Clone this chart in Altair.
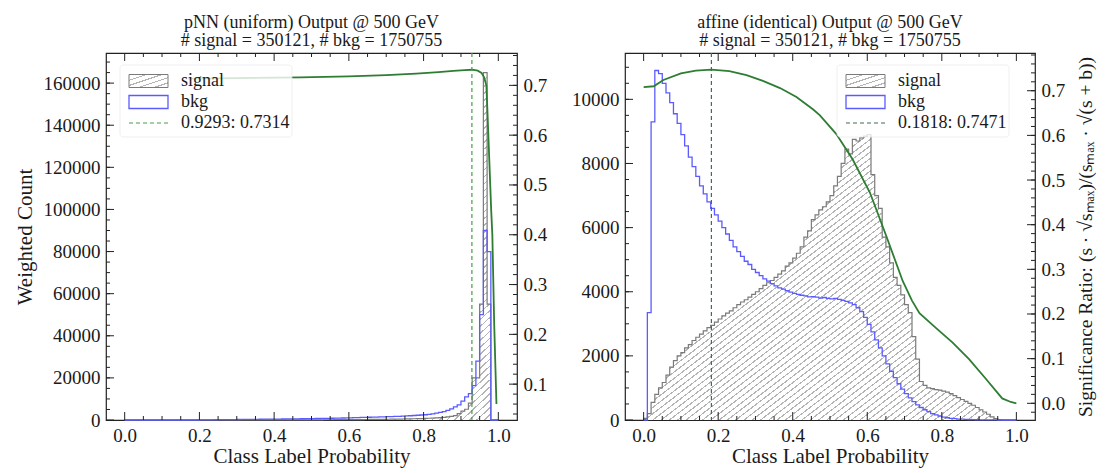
import altair as alt
import pandas as pd

FONT = "Liberation Serif"
TXT = "#1a1a1a"
EDGES = [round(0.01 * i, 2) for i in range(100)]

# ---------------- left panel: pNN (uniform) ----------------
L_SIG = [0, 0, 0, 0, 0, 0, 0, 0, 0, 0,
         0, 0, 0, 0, 0, 0, 0, 0, 0, 0,
         5, 5, 5, 10, 10, 10, 10, 15, 15, 15,
         20, 20, 20, 25, 25, 30, 30, 35, 35, 40,
         40, 45, 50, 55, 60, 65, 70, 75, 80, 85,
         90, 95, 100, 110, 120, 130, 140, 150, 160, 170,
         180, 195, 210, 225, 240, 260, 280, 300, 320, 340,
         360, 390, 420, 450, 480, 520, 560, 600, 650, 700,
         760, 830, 900, 1000, 1100, 1250, 1450, 1700, 2100, 3000,
         4200, 5100, 8000, 20000, 20000, 55000, 165000, 55000, 0, 0]
L_BKG = [0, 0, 0, 0, 0, 0, 0, 0, 0, 0,
         0, 0, 0, 0, 0, 0, 0, 0, 0, 0,
         50, 60, 80, 100, 120, 140, 160, 180, 200, 220,
         240, 260, 280, 300, 320, 340, 360, 380, 400, 420,
         440, 460, 480, 500, 520, 540, 560, 590, 620, 650,
         680, 710, 740, 770, 800, 840, 880, 920, 960, 1000,
         1050, 1100, 1150, 1200, 1250, 1300, 1350, 1400, 1450, 1500,
         1560, 1620, 1690, 1760, 1840, 1930, 2030, 2140, 2260, 2380,
         2500, 2700, 2950, 3250, 3600, 4000, 4600, 5300, 6200, 7200,
         9000, 11000, 12500, 16300, 28000, 50000, 90000, 80000, 0, 0]
L_CURVE_X = [0.17, 0.3, 0.47, 0.6, 0.7, 0.78, 0.84, 0.88, 0.91, 0.9293,
             0.945, 0.955, 0.962, 0.968, 0.971, 0.976, 0.981, 0.984, 0.989, 0.995]
L_CURVE_Y = [0.7135, 0.7145, 0.716, 0.718, 0.7205, 0.7235, 0.7265, 0.729, 0.7305, 0.7314,
             0.7295, 0.725, 0.716, 0.70, 0.646, 0.547, 0.448, 0.40, 0.22, 0.06]
L_CUT, L_BEST = 0.9293, 0.7314

# ---------------- right panel: affine (identical) ----------------
R_SIG = [50, 200, 550, 800, 1000, 1170, 1400, 1650, 1850, 2000,
         2100, 2250, 2350, 2480, 2580, 2680, 2780, 2880, 2950, 3050,
         3150, 3250, 3330, 3400, 3500, 3600, 3680, 3750, 3830, 3920,
         4000, 4100, 4200, 4280, 4350, 4450, 4550, 4650, 4800, 4900,
         5050, 5200, 5400, 5700, 5900, 6250, 6400, 6550, 6650, 6800,
         7000, 7300, 7600, 8000, 8450, 8300, 8750, 8700, 8800, 8850,
         8900, 7650, 7000, 6600, 5700, 5400, 4900, 4450, 4200, 3900,
         3600, 3350, 2600, 1900, 1200, 1080, 1000, 980, 950, 930,
         900, 870, 820, 760, 700, 640, 580, 520, 460, 390,
         320, 250, 180, 100, 40, 10, 0, 0, 0, 0]
R_BKG = [0, 3350, 9300, 10900, 10800, 10500, 10200, 9900, 9550, 9250,
         8900, 8550, 8200, 7900, 7600, 7300, 7050, 6800, 6600, 6400,
         6200, 6000, 5800, 5600, 5400, 5250, 5100, 4950, 4850, 4700,
         4600, 4500, 4400, 4330, 4250, 4180, 4120, 4080, 4030, 3990,
         3950, 3920, 3890, 3870, 3840, 3850, 3830, 3800, 3820, 3790,
         3780, 3790, 3760, 3730, 3700, 3650, 3600, 3500, 3380, 3200,
         2980, 2750, 2500, 2250, 2000, 1750, 1520, 1320, 1130, 960,
         820, 690, 570, 470, 390, 320, 260, 200, 160, 120,
         90, 70, 50, 40, 30, 25, 20, 15, 10, 8,
         5, 4, 3, 2, 1, 0, 0, 0, 0, 0]
R_CURVE_X = [0.0, 0.027, 0.053, 0.1, 0.14, 0.1818, 0.23, 0.276, 0.32, 0.366,
             0.41, 0.455, 0.473, 0.517, 0.561, 0.607, 0.65, 0.695, 0.72, 0.74,
             0.784, 0.829, 0.873, 0.918, 0.962, 0.985, 1.0]
R_CURVE_Y = [0.708, 0.71, 0.724, 0.739, 0.745, 0.7471, 0.744, 0.735, 0.722, 0.706,
             0.686, 0.658, 0.645, 0.603, 0.546, 0.472, 0.377, 0.274, 0.23, 0.202,
             0.169, 0.136, 0.099, 0.055, 0.011, 0.003, 0.0]
R_CUT, R_BEST = 0.1818, 0.7471

X_MAJOR = [0.0, 0.2, 0.4, 0.6, 0.8, 1.0]
X_MINOR = [0.05, 0.1, 0.15, 0.25, 0.3, 0.35, 0.45, 0.5, 0.55, 0.65, 0.7, 0.75, 0.85, 0.9, 0.95]

XS = alt.Scale(domain=[-0.05, 1.05], nice=False, zero=False)
ONE = pd.DataFrame({"k": [0]})


def hatch(n, color="#b4b4b4", frac=0.22):
    stops = []
    for k in range(n):
        a = k / n
        b = (k + frac) / n
        c = (k + 1) / n
        stops += [alt.GradientStop(offset=a, color=color),
                  alt.GradientStop(offset=b, color=color),
                  alt.GradientStop(offset=b, color="#ffffff"),
                  alt.GradientStop(offset=c, color="#ffffff")]
    return alt.LinearGradient(gradient="linear", stops=stops, x1=0, y1=0, x2=1, y2=1)


def step_df(vals):
    xs = [0.0] + EDGES + [1.0, 1.0]
    ys = [0] + list(vals) + [vals[-1], 0]
    return pd.DataFrame({"x": xs, "y": ys, "i": list(range(len(xs)))})


def xticks(vals, length, H):
    df = pd.DataFrame({"t": vals})
    base = alt.Chart(df).mark_rule(color="#222", strokeWidth=1)
    bot = base.encode(x=alt.X("t:Q", scale=XS, axis=None), y=alt.value(H), y2=alt.value(H - length))
    top = base.encode(x=alt.X("t:Q", scale=XS, axis=None), y=alt.value(0), y2=alt.value(length))
    return [bot, top]


def yticks(vals, length, scale, right, W):
    df = pd.DataFrame({"t": vals})
    x0 = W if right else 0
    x1 = W - length if right else length
    return alt.Chart(df).mark_rule(color="#222", strokeWidth=1).encode(
        y=alt.Y("t:Q", scale=scale, axis=None), x=alt.value(x0), x2=alt.value(x1))


def panel(W, H, sig, bkg, cx, cy, cut, best, ymax, ymaj, ymin, sdom, smaj, smin,
          title, ytitle, stitle, lx, nhatch, vcolor):
    CS = alt.Scale(domain=[0, ymax], nice=False, zero=True)
    SS = alt.Scale(domain=sdom, nice=False, zero=False)

    area_df = pd.DataFrame({"x": EDGES + [1.0], "y": list(sig) + [sig[-1]]})
    ykw = dict(orient="left", values=ymaj, format="d", ticks=False, domain=False,
               labelPadding=6, titlePadding=8, grid=False)
    ykw["title"] = ytitle if ytitle else ""
    xaxis = alt.Axis(orient="bottom", values=X_MAJOR, format=".1f", title="Class Label Probability",
                     ticks=False, domain=False, labelPadding=6, titlePadding=0, grid=False)
    area = alt.Chart(area_df).mark_area(interpolate="step-after", fill=hatch(nhatch), strokeWidth=0).encode(
        x=alt.X("x:Q", scale=XS, axis=xaxis),
        y=alt.Y("y:Q", scale=CS, axis=alt.Axis(**ykw)))
    sline = alt.Chart(step_df(sig)).mark_line(interpolate="step-after", color="#7a7a7a", strokeWidth=1.2).encode(
        x=alt.X("x:Q", scale=XS, axis=None), y=alt.Y("y:Q", scale=CS, axis=None), order="i:Q")
    bline = alt.Chart(step_df(bkg)).mark_line(interpolate="step-after", color="#5b5bff", strokeWidth=1.3).encode(
        x=alt.X("x:Q", scale=XS, axis=None), y=alt.Y("y:Q", scale=CS, axis=None), order="i:Q")

    skw = dict(orient="right", values=smaj, format=".1f", ticks=False, domain=False,
               labelPadding=6, titlePadding=12, grid=False, titleAngle=270, titleBaseline="top",
               titleFontSize=19.5)
    skw["title"] = stitle if stitle else ""
    curve = alt.Chart(pd.DataFrame({"x": cx, "y": cy})).mark_line(color="#2e7d32", strokeWidth=1.8).encode(
        x=alt.X("x:Q", scale=XS, axis=None), y=alt.Y("y:Q", scale=SS, axis=alt.Axis(**skw)))
    vline = alt.Chart(pd.DataFrame({"x": [cut]})).mark_rule(color=vcolor, strokeDash=[4, 3], strokeWidth=1.2).encode(
        x=alt.X("x:Q", scale=XS, axis=None))

    rows = [28, 49, 70]
    hx0, hx1, tx = lx + 9, lx + 48, lx + 61
    bg = alt.Chart(ONE).mark_rect(fill="white", opacity=0.8, stroke="#e8e8e8", strokeWidth=0.8, cornerRadius=3).encode(
        x=alt.value(lx), x2=alt.value(lx + 172), y=alt.value(12), y2=alt.value(84))
    h1 = alt.Chart(ONE).mark_rect(fill=hatch(5), stroke="#7a7a7a", strokeWidth=1).encode(
        x=alt.value(hx0), x2=alt.value(hx1), y=alt.value(rows[0] - 6.5), y2=alt.value(rows[0] + 6.5))
    h2 = alt.Chart(ONE).mark_rect(filled=False, stroke="#5b5bff", strokeWidth=1.3).encode(
        x=alt.value(hx0), x2=alt.value(hx1), y=alt.value(rows[1] - 6.5), y2=alt.value(rows[1] + 6.5))
    h3 = alt.Chart(ONE).mark_rule(color=vcolor, strokeDash=[4, 3], strokeWidth=1.2).encode(
        x=alt.value(hx0), x2=alt.value(hx1), y=alt.value(rows[2]))
    texts = []
    for r, lab in zip(rows, ["signal", "bkg", f"{cut:.4f}: {best:.4f}"]):
        texts.append(alt.Chart(ONE).mark_text(align="left", baseline="middle", fontSize=18, font=FONT, color=TXT).encode(
            x=alt.value(tx), y=alt.value(r), text=alt.value(lab)))

    layers = [area, sline, bline, curve, vline,
              *xticks(X_MAJOR, 8, H), *xticks(X_MINOR, 4, H),
              yticks(ymaj, 8, CS, False, W), yticks(ymin, 4, CS, False, W),
              yticks(smaj, 8, SS, True, W), yticks(smin, 4, SS, True, W),
              bg, h1, h2, h3, *texts]
    return alt.layer(*layers).resolve_scale(y="independent").resolve_axis(x="independent").properties(
        width=W, height=H,
        title=alt.TitleParams(text=title, fontSize=18, font=FONT, fontWeight="normal", anchor="middle",
                              frame="group", offset=2, lineHeight=18.5, color=TXT))


H = 367

left = panel(411, H, L_SIG, L_BKG, L_CURVE_X, L_CURVE_Y, L_CUT, L_BEST,
             174300, list(range(0, 170001, 20000)), list(range(5000, 170001, 5000)),
             [0.028, 0.765], [0.1, 0.2, 0.3, 0.4, 0.5, 0.6, 0.7],
             [round(0.04 + 0.02 * i, 2) for i in range(37)],
             ["pNN (uniform) Output @ 500 GeV", "# signal = 350121, # bkg = 1750755"],
             "Weighted Count", None, 14, 100, "#44a044")

right = panel(410, H, R_SIG, R_BKG, R_CURVE_X, R_CURVE_Y, R_CUT, R_BEST,
              11445, list(range(0, 11001, 2000)), list(range(500, 11401, 500)),
              [-0.0374, 0.7845], [0.0, 0.1, 0.2, 0.3, 0.4, 0.5, 0.6, 0.7],
              [round(-0.02 + 0.02 * i, 2) for i in range(41)],
              ["affine (identical) Output @ 500 GeV", "# signal = 350121, # bkg = 1750755"],
              None, "Significance Ratio: (s · √sₘₐₓ)/(sₘₐₓ · √(s + b))", 212, 90, "#3f6f4f")

chart = alt.hconcat(left, right, spacing=22).configure(font=FONT).configure_view(
    stroke="#222", strokeWidth=1.2).configure_axis(
    labelFont=FONT, titleFont=FONT, labelFontSize=19, titleFontSize=21, labelColor=TXT, titleColor=TXT,
    titleFontWeight="normal")

chart.save("out.html", embed_options={"renderer": "svg", "actions": False})
